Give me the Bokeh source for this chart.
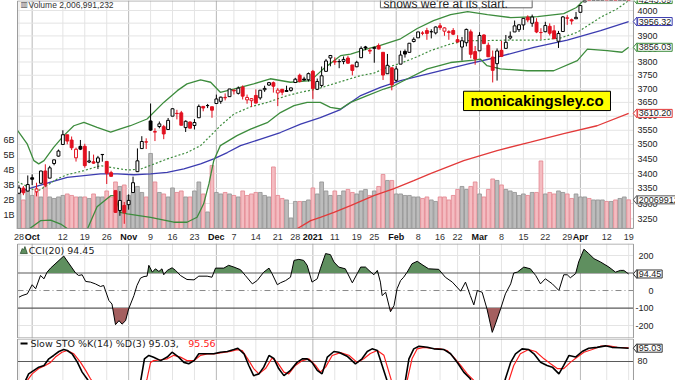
import numpy as np
from bokeh.plotting import figure
from bokeh.models import Range1d, Label, LinearScale
from bokeh.layouts import column
from bokeh.embed import file_html
from bokeh.resources import INLINE
from bokeh.core.properties import value

FONT = "Liberation Sans"
LFONT = "DejaVu Sans"

# ---------------- data ----------------
prev_close = 3298.46
opens = [3333.90, 3350.92, 3341.21,
         3385.87, 3338.94, 3367.27, 3408.74, 3384.56, 3434.28, 3459.67, 3500.02, 3534.01, 3515.47, 3453.72,
         3493.50, 3493.66, 3439.38, 3439.91, 3438.50, 3464.90, 3441.42, 3403.15, 3342.48, 3277.17, 3293.59,
         3296.20, 3336.25, 3406.46, 3485.74, 3508.34, 3583.04, 3543.26, 3563.22, 3562.67, 3552.57, 3600.16,
         3610.31, 3612.09, 3559.41, 3579.31, 3566.82, 3594.52, 3635.50, 3638.55, 3634.18,
         3645.87, 3653.78, 3668.28, 3670.94, 3694.73, 3683.05, 3705.98, 3659.13, 3656.08, 3675.27, 3666.41,
         3696.25, 3713.65, 3722.39, 3684.28, 3698.08, 3693.42, 3694.03, 3723.03, 3750.01, 3736.19, 3733.27,
         3764.61, 3698.02, 3712.20, 3764.71, 3815.05, 3803.14, 3801.62, 3802.23, 3814.98, 3788.73, 3781.88,
         3816.22, 3857.46, 3844.24, 3851.68, 3862.96, 3836.83, 3755.75, 3778.05,
         3731.17, 3791.84, 3840.27, 3836.66, 3878.30, 3892.59, 3910.49, 3920.78, 3916.40, 3911.65, 3939.61,
         3918.50, 3915.86, 3921.16, 3885.55, 3857.07, 3873.71, 3915.80, 3839.66,
         3842.51, 3903.64, 3863.99, 3818.53, 3793.58, 3844.39, 3851.93, 3891.99, 3915.54, 3924.52, 3942.96,
         3973.59, 3949.57, 3953.50, 3913.14, 3916.48, 3937.60, 3919.93, 3879.34, 3917.12, 3969.31, 3963.34,
         3967.25,
         3992.78, 4034.44, 4075.57, 4074.29, 4089.95, 4096.11, 4124.71, 4130.10, 4141.58, 4139.76, 4174.14,
         4179.80]
highs = [3360.74, 3357.92, 3393.56,
         3397.18, 3369.10, 3409.57, 3431.56, 3426.26, 3447.28, 3482.34, 3549.85, 3534.01, 3527.94, 3489.08,
         3515.76, 3502.42, 3476.93, 3464.86, 3460.53, 3466.46, 3441.42, 3409.51, 3342.48, 3341.05, 3304.93,
         3330.14, 3389.49, 3486.25, 3529.05, 3521.58, 3645.99, 3557.22, 3581.16, 3569.02, 3593.66, 3628.51,
         3623.11, 3619.09, 3585.22, 3581.23, 3589.81, 3642.31, 3635.50, 3644.31, 3634.18,
         3678.45, 3670.96, 3682.73, 3699.20, 3697.41, 3708.45, 3712.39, 3678.49, 3665.91, 3697.61, 3695.29,
         3711.27, 3725.12, 3726.70, 3702.90, 3698.26, 3711.24, 3703.82, 3740.51, 3756.12, 3744.63, 3760.20,
         3769.99, 3737.83, 3783.04, 3811.55, 3826.69, 3817.86, 3810.78, 3820.96, 3823.60, 3788.73, 3804.53,
         3859.75, 3861.45, 3852.31, 3859.23, 3870.90, 3836.83, 3830.50, 3778.05,
         3784.32, 3843.09, 3847.51, 3872.42, 3894.56, 3915.77, 3918.35, 3931.50, 3925.99, 3937.23, 3950.43,
         3933.61, 3921.98, 3930.41, 3902.92, 3895.98, 3928.65, 3925.02, 3861.08,
         3914.50, 3906.41, 3874.47, 3843.67, 3851.69, 3881.06, 3903.76, 3917.35, 3960.27, 3944.99, 3970.08,
         3981.04, 3983.87, 3969.62, 3930.12, 3955.31, 3949.13, 3942.08, 3919.54, 3978.19, 3981.83, 3968.01,
         3994.41,
         4020.63, 4083.42, 4086.23, 4083.13, 4098.19, 4129.48, 4131.76, 4148.00, 4151.69, 4173.49, 4191.31,
         4180.81]
lows = [3332.91, 3327.54, 3340.47,
        3361.39, 3323.69, 3367.27, 3354.54, 3384.56, 3428.15, 3458.07, 3499.61, 3500.86, 3480.55, 3440.89,
        3480.45, 3419.93, 3435.65, 3433.06, 3415.34, 3440.45, 3364.86, 3388.71, 3268.89, 3259.82, 3233.94,
        3279.74, 3336.25, 3405.17, 3485.74, 3484.34, 3547.48, 3511.91, 3557.00, 3518.58, 3552.57, 3600.16,
        3588.68, 3567.33, 3543.84, 3556.85, 3552.77, 3594.52, 3617.76, 3629.33, 3594.39,
        3645.87, 3644.84, 3657.17, 3670.94, 3678.88, 3678.83, 3660.54, 3645.18, 3633.40, 3645.84, 3659.62,
        3688.57, 3710.87, 3685.84, 3636.48, 3676.16, 3689.28, 3689.32, 3723.03, 3723.31, 3730.21, 3726.88,
        3662.71, 3695.07, 3705.34, 3764.71, 3783.60, 3789.02, 3776.51, 3791.50, 3792.86, 3749.62, 3780.37,
        3816.22, 3845.05, 3830.41, 3797.16, 3847.78, 3732.48, 3755.75, 3694.12,
        3725.62, 3791.84, 3816.68, 3836.66, 3874.93, 3892.59, 3902.64, 3884.94, 3890.39, 3905.78, 3923.85,
        3900.43, 3885.03, 3903.07, 3874.71, 3805.59, 3859.60, 3814.04, 3789.54,
        3842.51, 3868.57, 3818.86, 3723.34, 3730.19, 3819.25, 3851.93, 3885.73, 3915.54, 3915.21, 3923.54,
        3953.44, 3935.74, 3910.86, 3886.75, 3914.16, 3901.78, 3889.07, 3853.50, 3917.12, 3943.25, 3944.35,
        3966.98,
        3992.78, 4034.44, 4068.14, 4068.31, 4082.54, 4095.51, 4114.82, 4124.43, 4120.87, 4139.76, 4170.75,
        4150.47]
closes = [3351.60, 3335.47, 3363.00,
          3380.80, 3348.42, 3408.60, 3360.97, 3419.44, 3446.83, 3477.14, 3534.22, 3511.93, 3488.67, 3483.34,
          3483.81, 3426.92, 3443.12, 3435.56, 3453.49, 3465.39, 3400.97, 3390.68, 3271.03, 3310.11, 3269.96,
          3310.24, 3369.16, 3443.44, 3510.45, 3509.44, 3550.50, 3545.53, 3572.66, 3537.01, 3585.15, 3626.91,
          3609.53, 3567.79, 3581.87, 3557.54, 3577.59, 3635.41, 3629.65, 3638.35, 3621.63,
          3662.45, 3669.01, 3666.72, 3699.12, 3691.96, 3702.25, 3672.82, 3668.10, 3663.46, 3647.49, 3694.62,
          3701.17, 3722.48, 3709.41, 3694.92, 3687.26, 3690.01, 3703.06, 3735.36, 3727.04, 3732.04, 3756.07,
          3700.65, 3726.86, 3748.14, 3803.79, 3824.68, 3799.61, 3801.19, 3809.84, 3795.54, 3768.25, 3798.91,
          3851.85, 3853.07, 3841.47, 3855.36, 3849.62, 3750.77, 3787.38, 3714.24,
          3773.86, 3826.31, 3830.17, 3871.74, 3886.83, 3915.59, 3911.23, 3909.88, 3916.38, 3934.83, 3932.59,
          3931.33, 3913.97, 3906.71, 3876.50, 3881.37, 3925.43, 3829.34, 3811.15,
          3901.82, 3870.29, 3819.72, 3768.47, 3841.94, 3821.35, 3875.44, 3898.81, 3939.34, 3943.34, 3968.94,
          3962.71, 3974.12, 3915.46, 3913.10, 3940.59, 3910.52, 3889.14, 3909.52, 3974.54, 3971.09, 3958.55,
          3972.89,
          4019.87, 4077.91, 4073.94, 4079.95, 4097.17, 4128.80, 4127.99, 4141.59, 4124.66, 4170.42, 4185.47,
          4163.26]
volume_b = [2.4, 2.0, 2.6, 2.3, 2.5, 2.2, 2.9, 2.2, 2.1, 2.2,
            2.3, 2.4, 2.3, 2.2, 2.2, 2.2, 2.1, 2.4, 2.2, 2.2,
            2.6, 2.2, 3.2, 2.9, 3.0, 2.3, 2.5, 2.9, 2.5, 2.2,
            5.1, 3.2, 2.5, 2.4, 2.2, 2.8, 2.5, 2.6, 2.2, 2.2,
            2.6, 3.2, 2.4, 1.2, 4.3, 2.5, 2.4, 2.5, 2.4, 2.3,
            2.2, 2.6, 2.3, 2.4, 2.5, 2.5, 2.3, 2.2, 4.2, 2.3,
            2.1, 2.0, 0.8, 1.9, 1.9, 1.9, 2.0, 2.8, 2.4, 3.2,
            2.6, 2.3, 2.6, 2.3, 2.6, 2.7, 2.5, 2.4, 2.6, 2.7,
            2.3, 2.6, 2.9, 3.7, 3.3, 3.3, 2.4, 2.4, 2.3, 2.3,
            2.2, 2.2, 2.1, 2.2, 2.0, 1.9, 2.2, 2.2, 2.0, 2.3,
            2.7, 2.9, 2.7, 2.9, 3.2, 2.4, 2.2, 2.7, 3.4, 3.3,
            3.0, 2.7, 2.6, 2.5, 2.3, 2.4, 2.3, 2.5, 2.5, 4.6,
            2.4, 2.5, 2.4, 2.6, 2.5, 2.4, 2.1, 2.4, 2.2, 2.2,
            2.1, 2.0, 2.0, 2.0, 1.9, 1.9, 2.0, 2.1, 2.2, 2.007]

bb_up_x = [-0.3, 1.9, 3.4, 4.5, 5.7, 7.9, 10.2, 12.5, 14.8, 17.8, 20.9, 23.1, 25.4, 29.2, 33.0, 36.1,
           38.3, 41.4, 43.7, 45.9, 48.9, 53.5, 57.3, 61.9, 66.5, 69.4, 73.3, 75.6, 79.4, 82.4, 87.0, 90.8,
           94.5, 98.4, 102.3, 106.8, 112.1, 118.2, 124.2, 127.1, 128.7, 134.0, 139.0]
bb_up_y = [3549, 3501, 3444, 3433, 3444, 3490, 3531, 3566, 3578, 3560, 3543, 3555, 3566, 3590, 3650, 3693,
           3718, 3733, 3724, 3687, 3699, 3718, 3737, 3724, 3730, 3774, 3824, 3830, 3850, 3863, 3889, 3929,
           3960, 3984, 3996, 3984, 3972, 3976, 3988, 4012, 4040, 4180, 4243.09]
bb_mid_x = [-0.4, 1.9, 4.1, 6.4, 8.7, 11.0, 14.8, 18.6, 20.9, 24.7, 27.7, 30.7, 33.8, 38.3, 41.4, 44.4,
            45.9, 49.0, 52.8, 56.6, 61.2, 64.2, 68.0, 70.3, 74.1, 77.9, 80.9, 84.0, 87.0, 90.8, 93.8, 98.4,
            102.2, 106.7, 112.1, 118.9, 123.5, 127.3, 132.6, 136.4, 139.0]
bb_mid_y = [3373, 3356, 3340, 3360, 3382, 3396, 3410, 3427, 3421, 3412, 3415, 3432, 3450, 3472, 3496, 3542,
            3566, 3608, 3634, 3650, 3675, 3687, 3699, 3711, 3730, 3749, 3758, 3780, 3795, 3820, 3843, 3869,
            3882, 3882, 3884, 3884, 3892, 3914, 3973, 4007, 4040]
bb_lo_x = [-0.3, 2.2, 4.9, 7.2, 9.5, 11.7, 13.5, 15.5, 17.8, 20.9, 21.8, 23.1, 24.7, 30.0, 35.3, 38.3,
           40.6, 42.1, 43.3, 44.4, 45.9, 49.7, 52.8, 56.6, 59.6, 62.7, 65.7, 68.7, 71.0, 73.3, 75.6, 79.4,
           83.2, 85.5, 87.0, 93.1, 98.4, 103.7, 105.2, 106.7, 109.8, 115.9, 121.9, 127.3, 129.6, 134.1,
           137.5, 139.0]
bb_lo_y = [3180, 3216, 3244, 3246, 3233, 3212, 3190, 3214, 3289, 3326, 3326, 3271, 3266, 3255, 3239, 3239,
           3255, 3299, 3365, 3444, 3496, 3531, 3554, 3577, 3613, 3638, 3650, 3650, 3632, 3626, 3650, 3675,
           3699, 3711, 3724, 3774, 3798, 3807, 3811, 3786, 3774, 3767, 3767, 3805, 3849, 3843, 3837, 3856.03]
sma50_x = [-0.4, 3.4, 7.2, 11.0, 14.8, 18.6, 22.4, 26.2, 30.0, 33.8, 37.6, 41.4, 44.4, 47.5, 50.5, 55.1,
           59.6, 64.2, 68.7, 73.3, 77.9, 82.4, 87.0, 94.6, 102.2, 109.0, 117.4, 125.0, 132.6, 139.0]
sma50_y = [3337, 3354, 3371, 3387, 3393, 3399, 3399, 3396, 3399, 3404, 3416, 3433, 3450, 3472, 3496, 3519,
           3542, 3572, 3595, 3624, 3675, 3705, 3730, 3761, 3792, 3818, 3856, 3884, 3921, 3956.32]
sma200_x = [60.0, 62.7, 66.5, 68.7, 71.8, 75.6, 80.9, 85.5, 90.0, 93.8, 101.4, 109.0, 116.6, 124.2,
            131.8, 139.0]
sma200_y = [3195, 3212, 3244, 3255, 3271, 3293, 3326, 3349, 3376, 3400, 3444, 3479, 3508, 3538, 3566,
            3610.20]

cci_x = [0, 0.7, 1.9, 3.0, 3.8, 4.9, 5.7, 6.4, 7.2, 10.2,
         12.9, 13.6, 14.4, 15.2, 16.3, 17.4, 18.6, 19.3, 20.5, 21.2,
         22.0, 22.8, 23.5, 24.3, 25.0, 26.2, 26.9, 27.7, 28.5, 29.2,
         29.6, 30.4, 31.1, 31.9, 32.6, 33.0, 33.8, 34.9, 35.7, 36.8,
         38.3, 39.9, 41.0, 42.9, 44.0, 44.8, 46.7, 47.8, 49.0, 50.5,
         51.6, 53.2, 54.3, 55.8, 57.0, 57.7, 58.9, 59.6, 60.8, 61.9,
         62.7, 63.8, 64.9, 65.7, 66.8, 68.0, 68.7, 69.9, 71.0, 71.8,
         72.9, 74.4, 76.0, 77.1, 77.9, 79.0, 79.8, 80.9, 81.7, 82.4,
         82.8, 83.6, 84.7, 85.5, 86.2, 87.0, 87.7, 88.5, 89.6, 90.8,
         91.9, 93.4, 95.7, 97.2, 98.8, 100.7, 101.8, 102.9, 103.7, 104.5,
         105.6, 106.7, 107.9, 108.6, 109.8, 110.9, 112.1, 112.8, 113.6, 115.1,
         116.6, 117.8, 118.9, 120.0, 121.6, 123.1, 124.2, 125.0, 125.7, 126.9,
         127.6, 128.8, 129.9, 131.1, 132.6, 134.5, 136.0, 137.1, 137.9, 139.0]
cci_y = [-38, -29, -19, 33, 10, 86, 67, 105, 128, 197,
         100, 86, 90, 52, 48, 38, 23, 29, -57, -77,
         -195, -172, -192, -172, -105, -29, 29, 71, 80, 82,
         144, 105, 124, 109, 124, 90, 115, 130, 115, 86,
         63, 61, 82, 82, 76, 128, 128, 144, 134, 119,
         86, 38, 57, 105, 128, 96, 33, 44, 57, 76,
         172, 178, 172, 144, 48, 67, 124, 211, 205, 163,
         134, 124, 44, 96, 134, 134, 115, 90, 115, 48,
         -29, -10, -121, -86, 10, 57, 76, 105, 153, 167,
         148, 124, 121, 76, 48, -4, 48, -29, -82, 0,
         -10, -105, -239, -192, -105, -19, 38, 100, 105, 134,
         124, 86, 38, 67, 38, 0, 90, 90, 73, 96,
         163, 236, 211, 182, 163, 134, 105, 115, 115, 94.45]

stok_x = [0, 1.5, 2.2, 3.4, 4.5, 5.7, 6.8, 7.9, 9.1, 10.2,
          11.0, 12.1, 13.3, 14.4, 15.5, 17.5, 20.0, 22.0, 24.0, 26.0,
          27.3, 28.6, 29.6, 30.7, 32.3, 33.8, 34.9, 36.4, 37.6, 38.7,
          39.9, 41.0, 42.5, 44.4, 45.9, 47.5, 49.0, 49.9, 51.3, 52.4,
          53.5, 54.7, 55.8, 57.0, 58.1, 59.2, 60.4, 61.9, 63.4, 64.6,
          65.7, 66.8, 68.0, 69.1, 70.3, 71.8, 72.9, 74.8, 76.7, 78.2,
          79.4, 80.5, 81.7, 82.8, 83.9, 84.8, 86.5, 88.1, 88.9, 90.0,
          91.2, 93.1, 94.6, 96.9, 98.4, 99.9, 101.4, 102.9, 104.5, 106.5,
          108.5, 110.0, 110.9, 112.1, 113.2, 114.7, 116.2, 117.4, 118.9, 120.4,
          121.6, 123.1, 124.2, 125.4, 126.9, 128.4, 129.9, 131.8, 133.7, 135.2,
          137.1, 139.0]
stok_y = [45, 58.6, 66, 70, 73.6, 75.5, 83, 86.8, 91.3, 93.5,
          92.4, 88.7, 79.2, 68, 60.5, 45, 35, 15, 10, 30,
          45, 83, 86.8, 84.8, 81, 85, 90.5, 85, 79, 77.4,
          81, 88.7, 88.7, 88.7, 90.5, 91.3, 93.5, 95, 88.7, 75.5,
          64, 66, 73.6, 86.8, 83.5, 72, 64, 70, 79, 83,
          83, 79, 70, 66, 85, 91.3, 90.5, 86, 77.4, 83,
          91.3, 94.3, 92.4, 75.5, 58.6, 35, 40, 58.6, 83, 94.3,
          97.3, 96.1, 94.3, 93.5, 88.7, 79.2, 68, 60.5, 35, 15,
          20, 45, 60.5, 79, 88.7, 94.3, 93.5, 88.7, 79.2, 75.5,
          73.6, 66, 75.5, 86.8, 85, 91.3, 95, 96, 97.7, 96,
          95.5, 95.03]
stod_x = [0, 1.9, 3.0, 4.5, 6.0, 7.2, 8.3, 9.8, 11.0, 12.5,
          14.0, 15.2, 16.3, 18.0, 21.0, 24.0, 26.5, 29.2, 30.0, 30.7,
          32.3, 33.8, 35.3, 36.8, 38.3, 39.9, 41.4, 42.9, 44.4, 46.3,
          48.2, 49.7, 50.9, 52.4, 53.5, 54.7, 56.2, 57.7, 58.9, 60.4,
          61.5, 63.0, 64.6, 66.1, 67.6, 68.7, 69.9, 71.4, 73.3, 75.2,
          77.1, 78.6, 80.1, 81.7, 83.2, 84.7, 86.0, 87.5, 88.5, 89.6,
          90.8, 92.3, 93.8, 96.1, 97.6, 99.1, 100.7, 102.2, 103.7, 105.5,
          108.0, 110.3, 111.7, 112.8, 114.3, 116.2, 117.8, 119.7, 121.2, 122.7,
          124.2, 125.7, 127.3, 128.8, 130.7, 132.6, 134.5, 136.4, 139.0]
stod_y = [35, 58.6, 66, 72, 75.5, 79, 85, 90.5, 92.4, 88.7,
          79.2, 70, 60.5, 48, 30, 15, 20, 60.5, 79, 81,
          82, 83, 87, 85, 81, 81, 87, 88.7, 88.7, 90,
          91.3, 93.5, 92.4, 81, 72, 66, 72, 84, 79, 68,
          66, 75.5, 81, 83, 75.5, 68, 73.6, 86.8, 90, 87,
          79, 83, 89, 92.4, 87, 62, 40, 45, 58.6, 83,
          94.3, 96, 95, 94.3, 92.4, 85, 75.5, 66, 58.6, 35,
          20, 35, 58.6, 75.5, 88.7, 93.5, 91.3, 83, 77.4, 72,
          72, 79, 85, 90.5, 93.5, 97.3, 97.7, 96, 95.56]

tick_idx = [0, 3, 10, 15, 20, 25, 30, 35, 40, 45, 49, 54, 59, 63, 67, 72, 77, 81, 86, 91, 96, 100,
            105, 110, 115, 120, 125, 128, 134, 139]
tick_txt = ["28", "Oct", "12", "19", "26", "Nov", "9", "16", "23", "Dec", "7", "14", "21", "28", "2021",
            "11", "19", "25", "Feb", "8", "16", "22", "Mar", "8", "15", "22", "29", "Apr", "12", "19"]
month_txt = ["Oct", "Nov", "Dec", "2021", "Feb", "Mar", "Apr"]
price_ticks = [3250, 3300, 3350, 3400, 3450, 3500, 3550, 3600, 3650, 3700, 3750, 3800, 3850, 3900,
               3950, 4000]
vol_ticks = [1, 2, 3, 4, 5, 6]
cci_ticks = [-200, -100, 0, 100, 200]
sto_ticks = [80]

# ---------------- layout ----------------
W = 675
H_MAIN, H_STRIP, H_CCI, H_STO = 229, 14, 95, 42
XL, XR = -0.34, 140.1          # plot area (data units)
xr = Range1d(-4.218, 149.68)   # whole canvas width

GREEN = "#3d8c3d"
BLUE = "#3c3cb0"
RED_MA = "#e23a3a"
RED = "#e2101f"
GRID_L = "#e4e4e4"
GRID_D = "#b8b8b8"
EDGE = "#9c9c9c"

week_pos = [t for t, s in zip(tick_idx, tick_txt) if s not in month_txt]
month_pos = [t for t, s in zip(tick_idx, tick_txt) if s in month_txt]


def base(h, yr, ytype="linear"):
    p = figure(width=W, height=h, x_range=xr, y_range=yr, y_axis_type=ytype,
               x_axis_location=None, y_axis_location=None,
               output_backend="svg", toolbar_location=None, min_border=0)
    p.outline_line_color = None
    p.background_fill_color = "white"
    p.border_fill_color = "white"
    p.grid.visible = False
    return p


def panel(p, ybot, ytop, hticks=(), hcolor=GRID_L):
    nw, nm = len(week_pos), len(month_pos)
    p.segment(x0=week_pos, x1=week_pos, y0=[ybot] * nw, y1=[ytop] * nw, line_color=GRID_L, line_width=1)
    p.segment(x0=month_pos, x1=month_pos, y0=[ybot] * nm, y1=[ytop] * nm, line_color=GRID_D, line_width=1)
    k = len(hticks)
    if k:
        p.segment(x0=[XL] * k, x1=[XR] * k, y0=list(hticks), y1=list(hticks), line_color=hcolor, line_width=1)


def outline(p, ybot, ytop):
    p.quad(left=[XL], right=[XR], bottom=[ybot], top=[ytop], fill_color=None, line_color=EDGE, line_width=1)


def ylabels(p, vals, texts, x=141.0, align="left", **kw):
    p.text(x=[x] * len(vals), y=vals, text=texts, text_align=align, text_baseline="middle",
           text_font=value(FONT), text_font_size="9px", text_color="#222222", **kw)


box = dict(background_fill_color="white", border_line_width=1, padding=1)


def tag(p, y, text, color, half, log=False, **kw):
    # pointed value tag at the right edge of a panel
    if log:
        lo_, hi_ = y * np.exp(-half / 1003.0), y * np.exp(half / 1003.0)
    else:
        lo_, hi_ = y - half, y + half
    p.patch([140.9, 140.05, 140.9], [hi_, y, lo_], fill_color="white", line_color=color, line_width=1, **kw)
    L = Label(x=141.05, y=y, text=text, text_font=FONT, text_font_size="9px", text_color="#222222",
              text_align="left", text_baseline="middle", border_line_color=color, **box, **kw)
    p.add_layout(L)


# ---------------- main price panel ----------------
P_BOT, P_TOP = 3215.6, 4040.2
pm = base(H_MAIN, Range1d(P_BOT, P_TOP), "log")
pm.extra_y_ranges = {"vol": Range1d(0.03, 15.3)}
pm.extra_y_scales = {"vol": LinearScale()}
panel(pm, P_BOT, P_TOP, price_ticks)

n = len(closes)
xi = np.arange(n)
o = np.array(opens); c = np.array(closes); hi = np.array(highs); lo = np.array(lows)
pcl = np.concatenate([[prev_close], c[:-1]])
up = c >= pcl
ccol = np.where(up, "black", RED)
cfill = np.where(c > o, "white", ccol)
vfill = np.where(up, "#bcbcbc", "#f4bcc1")
vline = np.where(up, "#909090", "#e3848e")

pm.vbar(x=xi, width=0.86, top=volume_b, bottom=0, y_range_name="vol",
        fill_color=vfill, line_color=vline, line_width=0.8)

pm.line(sma200_x, sma200_y, line_color=RED_MA, line_width=1.3)
pm.line(sma50_x, sma50_y, line_color=BLUE, line_width=1.3)
pm.line(bb_mid_x, bb_mid_y, line_color=GREEN, line_width=1.2, line_dash="2 2")
pm.line(bb_up_x, bb_up_y, line_color=GREEN, line_width=1.3)
pm.line(bb_lo_x, bb_lo_y, line_color=GREEN, line_width=1.3)

pm.segment(x0=xi, y0=lo, x1=xi, y1=hi, line_color=ccol, line_width=1)
pm.vbar(x=xi, width=0.66, top=np.maximum(o, c), bottom=np.minimum(o, c),
        fill_color=cfill, line_color=ccol, line_width=1)

# annotation boxes
pm.quad(left=[82.4], right=[117.0], bottom=[4010.8], top=[4200], fill_color="white",
        line_color="#606060", line_width=1)
pm.text(x=[83.1], y=[4026], text=["shows we're at its start."], text_align="left",
        text_baseline="alphabetic", text_font=value(FONT), text_font_size="12px",
        text_color="#222222")
pm.quad(left=[101.35], right=[134.86], bottom=[3620.4], top=[3690.8], fill_color="#ffff00",
        line_color="black", line_width=1)
pm.text(x=[118.1], y=[3655.4], text=["monicakingsley.co"], text_align="center",
        text_baseline="middle", text_font=value(FONT), text_font_size="15px",
        text_font_style="bold", text_color="black")

outline(pm, 3219.0, 4038.5)
ylabels(pm, price_ticks, [str(t) for t in price_ticks])
ylabels(pm, vol_ticks, [f"{t}B" for t in vol_ticks], x=-1.0, align="right", y_range_name="vol")

# legend & value tags
pm.text(x=[0.34], y=[4024], text=["\u25A5"], text_font=value(LFONT), text_font_size="8px",
        text_baseline="alphabetic", text_color="#555555")
pm.text(x=[2.17], y=[4024], text=["Volume 2,006,991,232"], text_font=value(FONT),
        text_font_size="8.5px", text_baseline="alphabetic", text_color="#333333")
tag(pm, 4044, "4243.09", GREEN, 4.5, log=True)
tag(pm, 3956.32, "3956.32", BLUE, 4.5, log=True)
tag(pm, 3856.03, "3856.03", GREEN, 4.5, log=True)
tag(pm, 3610.20, "3610.20", RED_MA, 4.5, log=True)
tag(pm, 2.007, "2006991232", "#555555", 0.3, y_range_name="vol")

# ---------------- date strip ----------------
pt = base(H_STRIP, Range1d(0, 1))
for t, s in zip(tick_idx, tick_txt):
    m = s in month_txt
    pt.text(x=[t], y=[0.48], text=[s], text_align="center", text_baseline="middle",
            text_font=value(FONT), text_font_size="9px", text_font_style="bold" if m else "normal",
            text_color="#111111" if m else "#333333")

# ---------------- CCI panel ----------------
C_BOT, C_TOP = -274, 268.6
pc = base(H_CCI, Range1d(C_BOT, C_TOP))
panel(pc, C_BOT, C_TOP, [-200, 200])
pc.segment(x0=[XL, XL], x1=[XR, XR], y0=[100, -100], y1=[100, -100], line_color="#5a5a5a", line_width=1.2)
pc.segment(x0=[XL], x1=[XR], y0=[0], y1=[0], line_color="#8a8a8a", line_width=1, line_dash="6 3 1 3")


def clip_level(xs, ys, level, above):
    xo, yo = [], []
    for i in range(len(xs)):
        if i > 0:
            y0, y1 = ys[i - 1], ys[i]
            if (y0 - level) * (y1 - level) < 0:
                t = (level - y0) / (y1 - y0)
                xo.append(xs[i - 1] + t * (xs[i] - xs[i - 1]))
                yo.append(level)
        xo.append(xs[i])
        yo.append(max(ys[i], level) if above else min(ys[i], level))
    return xo, yo


gx, gy = clip_level(cci_x, cci_y, 100, True)
rx, ry = clip_level(cci_x, cci_y, -100, False)
pc.varea(x=gx, y1=100, y2=gy, fill_color="#5f8f5f")
pc.varea(x=rx, y1=-100, y2=ry, fill_color="#a45f5f")
pc.line(cci_x, cci_y, line_color="black", line_width=1)

pc.patch([0.3, 0.75, 1.05, 1.35, 1.9], [211, 240, 232, 251, 211], fill_color="#5f8f5f",
         line_color="#2f4f2f", line_width=0.8)
pc.text(x=[2.2], y=[229], text=["CCI(20) 94.45"], text_font=value(LFONT), text_font_size="9.5px",
        text_baseline="middle", text_color="#222222")
outline(pc, C_BOT + 3, C_TOP - 3)
ylabels(pc, cci_ticks, [str(t) for t in cci_ticks], x=144.67, align="right")
tag(pc, 94.45, "94.45", "#333333", 26)

# ---------------- Slow stochastic panel ----------------
S_BOT, S_TOP = 58.5, 106
ps = base(H_STO, Range1d(S_BOT, S_TOP))
panel(ps, S_BOT, S_TOP)
ps.segment(x0=[XL], x1=[XR], y0=[80], y1=[80], line_color="#5a5a5a", line_width=1.2)
ps.line(stod_x, stod_y, line_color="#ff2020", line_width=1.2)
ps.line(stok_x, stok_y, line_color="black", line_width=1.6)
ps.segment(x0=[0.35], y0=[100.3], x1=[1.95], y1=[100.3], line_color="black", line_width=2)
ps.text(x=[2.6], y=[100.3], text=["Slow STO %K(14) %D(3) 95.03,"], text_font=value(LFONT),
        text_font_size="9.5px", text_baseline="middle", text_color="#222222")
ps.text(x=[38.6], y=[100.3], text=["95.56"], text_font=value(LFONT),
        text_font_size="9.5px", text_baseline="middle", text_color="#ff2020")
outline(ps, S_BOT - 5, S_TOP - 0.6)
ylabels(ps, sto_ticks, ["80"])
tag(ps, 95.03, "95.03", "#333333", 5.1)

layout = column(pm, pt, pc, ps, spacing=0)
open("out.html", "w").write(file_html(layout, INLINE))
